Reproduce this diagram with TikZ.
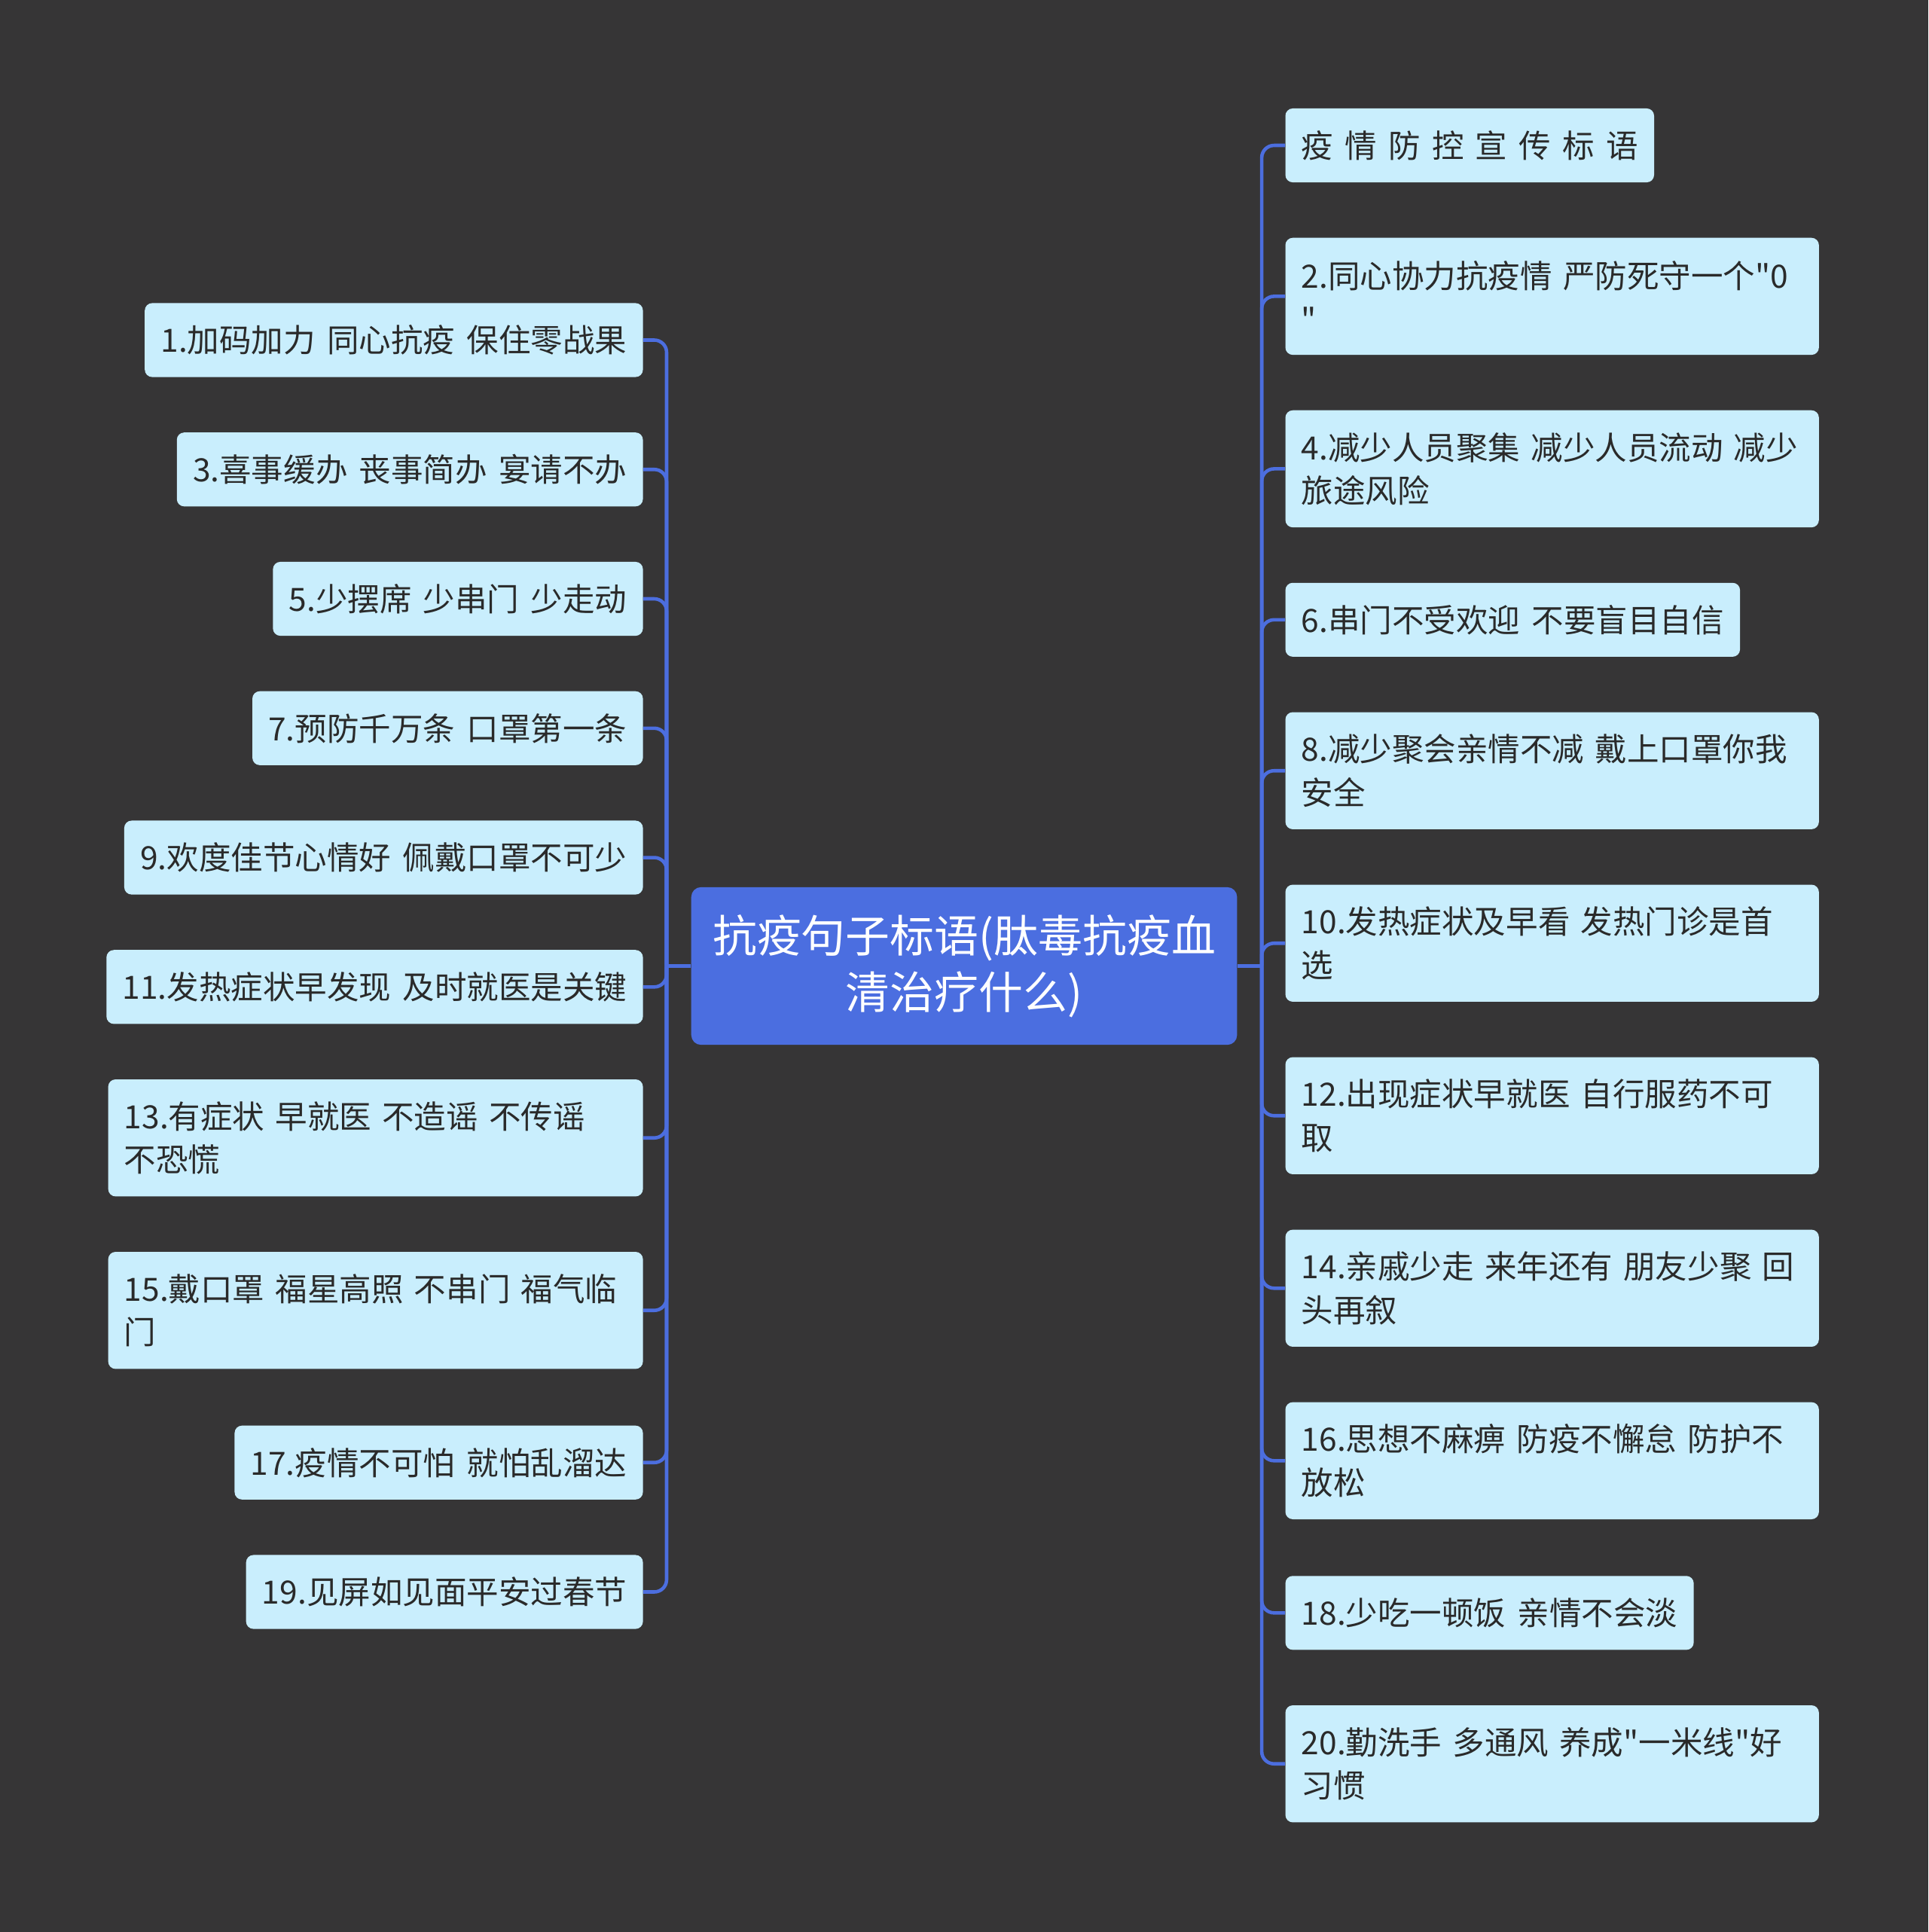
\documentclass[tikz,border=0pt]{standalone}
\usepackage{fontspec}
\newfontfamily\cjk[WordSpace=1.6]{Noto Sans CJK SC}
\definecolor{bgc}{HTML}{363536}
\definecolor{leafc}{HTML}{C9EEFD}
\definecolor{rootc}{HTML}{4B6EE0}
\definecolor{connc}{HTML}{4C6EDF}
\definecolor{txtc}{HTML}{2A2A2A}
\begin{document}
\begin{tikzpicture}[x=1pt,y=-1pt,
  leafbox/.style={fill=leafc, rounded corners=6pt, inner xsep=13pt, inner ysep=0pt,
    minimum height=60pt, text=txtc, align=left, font=\cjk\fontsize{26}{35}\selectfont},
  leafl/.style={leafbox, anchor=east},
  leafr/.style={leafbox, anchor=west},
  multil/.style={text width=408pt, minimum height=95pt},
  multir/.style={text width=407pt, minimum height=95pt},
  rootbox/.style={fill=rootc, rounded corners=8pt, minimum width=443pt, minimum height=128pt,
    text=white, align=center, font=\cjk\fontsize{36}{46}\selectfont, inner sep=0pt},
  link/.style={draw=connc, line width=2.8pt, rounded corners=10pt}]
\fill[bgc] (0,0) rectangle (1565,1568);
\useasboundingbox (0,0) rectangle (1565,1568);

\node[rootbox] (root) at (782.5,784) {抗疫句子标语(肽毒抗疫血\\清治疗什么)};
\coordinate (lj) at (541,784);
\coordinate (rj) at (1024,784);

% left
\node[leafl] (l1) at (522,276) {1.加码加力 同心抗疫 保住零战果};
\node[leafl] (l3) at (522,381) {3.喜事缓办 丧事简办 宴请不办};
\node[leafl] (l5) at (522,486) {5.少摆席 少串门 少走动};
\node[leafl] (l7) at (522,591) {7.预防千万条 口罩第一条};
\node[leafl] (l9) at (522,696) {9.欢度佳节心情好 佩戴口罩不可少};
\node[leafl] (l11) at (522,801) {11.发热症状早发现 及时就医是关键};
\node[leafl,multil] (l13) at (522,923.5) {13.有症状 早就医 不造谣 不传谣\\不恐慌};
\node[leafl,multil] (l15) at (522,1063.5) {15.戴口罩 福星高照 不串门 福气临\\门};
\node[leafl] (l17) at (522,1187) {17.疫情不可怕 就怕乱溜达};
\node[leafl] (l19) at (522,1292) {19.见屏如见面平安过春节};

% right
\node[leafr] (r0) at (1043,118) {疫 情 防 控 宣 传 标 语};
\node[leafr,multir] (r2) at (1043,240.5) {2.同心协力抗疫情 严防死守一个"0\\"};
\node[leafr,multir] (r4) at (1043,380.5) {4.减少人员聚集 减少人员流动 减少\\旅途风险};
\node[leafr] (r6) at (1043,503) {6.串门不受欢迎 不要盲目自信};
\node[leafr,multir] (r8) at (1043,625.5) {8.减少聚会亲情不减 戴上口罩你我\\安全};
\node[leafr,multir] (r10) at (1043,765.5) {10.发热症状及早看 发热门诊是首\\选};
\node[leafr,multir] (r12) at (1043,905.5) {12.出现症状早就医 自行服药不可\\取};
\node[leafr,multir] (r14) at (1043,1045.5) {14.亲戚少走 来年还有 朋友少聚 回\\头再叙};
\node[leafr,multir] (r16) at (1043,1185.5) {16.思想不麻痹 防疫不懈怠 防护不\\放松};
\node[leafr] (r18) at (1043,1309) {18.少吃一顿饭 亲情不会淡};
\node[leafr,multir] (r20) at (1043,1431.5) {20.勤洗手 多通风 养成"一米线"好\\习惯};

% connectors
\draw[link] (root.west) -- (lj);
\draw[link] (root.east) -- (rj);
\foreach \n in {l1,l3,l5,l7,l9,l11,l13,l15,l17,l19}
  \draw[link] (lj) |- (\n.east);
\foreach \n in {r0,r2,r4,r6,r8,r10,r12,r14,r16,r18,r20}
  \draw[link] (rj) |- (\n.west);
\end{tikzpicture}
\end{document}
